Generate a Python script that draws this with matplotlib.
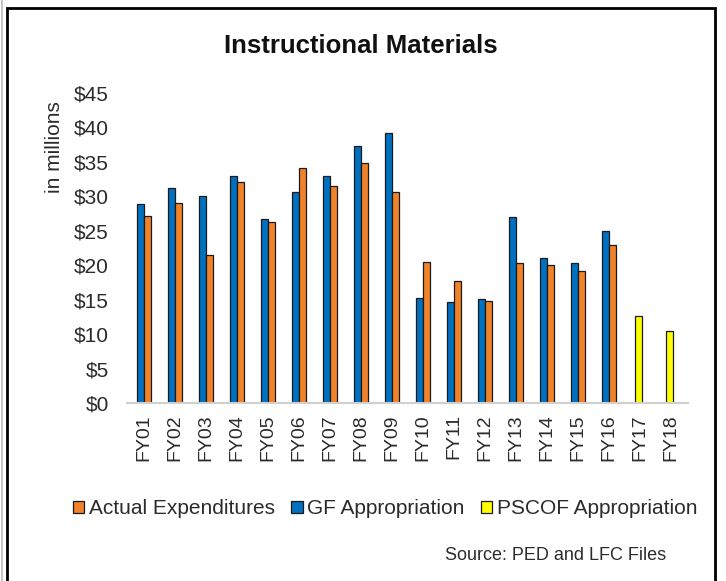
import numpy as np
import matplotlib.pyplot as plt
from matplotlib.patches import Rectangle
from matplotlib.lines import Line2D

# datos (millones de $)
years = ['FY01', 'FY02', 'FY03', 'FY04', 'FY05', 'FY06', 'FY07', 'FY08', 'FY09',
         'FY10', 'FY11', 'FY12', 'FY13', 'FY14', 'FY15', 'FY16', 'FY17', 'FY18']
gf_approp = [28.9, 31.2, 30.0, 32.9, 26.7, 30.6, 33.0, 37.3, 39.2,
             15.3, 14.6, 15.1, 27.0, 21.0, 20.3, 25.0, None, None]
actual_exp = [27.1, 29.1, 21.5, 32.1, 26.3, 34.1, 31.5, 34.9, 30.6,
              20.5, 17.7, 14.8, 20.3, 20.0, 19.2, 22.9, None, None]
pscof_approp = [None] * 16 + [12.7, 10.4]
yticks = [0, 5, 10, 15, 20, 25, 30, 35, 40, 45]

BLUE, ORANGE, YELLOW = '#0070C0', '#F08229', '#FFFF00'
TXT = '#2b2b2b'

plt.rcParams['font.family'] = ['Liberation Sans', 'DejaVu Sans']

fig = plt.figure(figsize=(7.26, 5.81), dpi=100)
ax = fig.add_axes([127 / 726, 1 - 403 / 581, 561 / 726, 310 / 581])

x = np.arange(len(years))
w = 0.24
for i in range(len(years)):
    if gf_approp[i] is not None:
        ax.bar(x[i] - w / 2, gf_approp[i], w, color=BLUE, edgecolor='#1a1a1a', linewidth=0.9)
    if actual_exp[i] is not None:
        ax.bar(x[i] + w / 2, actual_exp[i], w, color=ORANGE, edgecolor='#1a1a1a', linewidth=0.9)
    if pscof_approp[i] is not None:
        ax.bar(x[i] - 0.05, pscof_approp[i], w, color=YELLOW, edgecolor='#1a1a1a', linewidth=0.9)

ax.set_xlim(-0.55, 17.55)
ax.set_ylim(0, 45)
ax.set_yticks(yticks)
ax.set_yticklabels([f'${v}' for v in yticks], fontsize=15, color=TXT)
ax.set_xticks(x)
ax.set_xticklabels(years, rotation=90, fontsize=14, color=TXT)
ax.tick_params(length=0)
ax.tick_params(axis='y', pad=13)
ax.tick_params(axis='x', pad=8)
for s in ['top', 'right', 'left']:
    ax.spines[s].set_visible(False)
ax.spines['bottom'].set_color('#d0d0d0')
ax.spines['bottom'].set_linewidth(1.5)

fig.text(54 / 726, 1 - 147 / 581, 'in millions', rotation=90, ha='center', va='center',
         fontsize=15, color=TXT)
fig.text(361 / 726, 1 - 46 / 581, 'Instructional Materials', ha='center', va='center',
         fontsize=18.5, fontweight='bold', color='#111111')

handles = [Rectangle((0, 0), 1, 1, facecolor=ORANGE, edgecolor='#1a1a1a', linewidth=0.9),
           Rectangle((0, 0), 1, 1, facecolor=BLUE, edgecolor='#1a1a1a', linewidth=0.9),
           Rectangle((0, 0), 1, 1, facecolor=YELLOW, edgecolor='#1a1a1a', linewidth=0.9)]
leg = fig.legend(handles, ['Actual Expenditures', 'GF Appropriation', 'PSCOF Appropriation'],
                 loc='center', bbox_to_anchor=(385 / 726, 1 - 509 / 581), ncol=3,
                 frameon=False, fontsize=15, handlelength=0.55, handleheight=0.55,
                 handletextpad=0.2, columnspacing=0.8, borderpad=0)
for t in leg.get_texts():
    t.set_color(TXT)

fig.text(445 / 726, 1 - 556 / 581, 'Source: PED and LFC Files', ha='left', va='center',
         fontsize=13, color=TXT)

# marco exterior
fig.add_artist(Rectangle((7 / 726, -0.05), 708 / 726, 1 - 8 / 581 + 0.05,
                         transform=fig.transFigure, fill=False, edgecolor='black', linewidth=2))
fig.add_artist(Line2D([1.5 / 726, 1.5 / 726], [0, 1], transform=fig.transFigure,
                      color='#bbbbbb', linewidth=1.2))

fig.savefig('out.png', dpi=100)
